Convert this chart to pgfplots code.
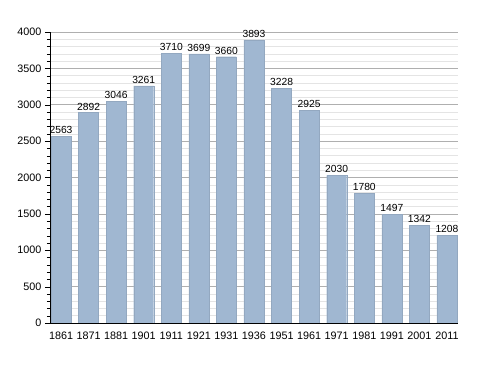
\documentclass[border=0pt]{standalone}
\usepackage{pgfplots}
\pgfplotsset{compat=1.18}
\usepackage{fontspec}
\setmainfont{Liberation Sans}
\definecolor{barc}{RGB}{160,183,209}
\definecolor{majgrid}{RGB}{175,175,175}
\definecolor{mingrid}{RGB}{228,228,228}
\begin{document}
\begin{tikzpicture}
\begin{axis}[
  name=ax,
  scale only axis,
  width=408pt, height=291pt,
  xmin=-0.4, xmax=14.4,
  ymin=0, ymax=4000,
  axis x line*=bottom, axis y line*=left,
  xtick=data,
  xticklabels={1861,1871,1881,1901,1911,1921,1931,1936,1951,1961,1971,1981,1991,2001,2011},
  ytick={0,500,...,4000},
  minor y tick num=4,
  ymajorgrids, yminorgrids,
  major grid style={majgrid, line width=0.6pt},
  minor grid style={mingrid, line width=0.5pt},
  tick align=outside,
  major tick length=5pt, minor tick length=3pt,
  xtick style={draw=none},
  tick style={black},
  ytick style={black},
  axis line style={black, line width=0.8pt},
  /pgf/number format/assume math mode=true,
  /pgf/number format/1000 sep={},
  tick label style={font=\fontsize{10.8}{13}\selectfont},
  ybar, bar width=20pt,
  nodes near coords,
  nodes near coords style={font=\fontsize{10.3}{12}\selectfont, /pgf/number format/1000 sep={}, yshift=-1pt},
]
\addplot[fill=barc, draw=barc!92!black, line width=0.3pt] coordinates {
(0,2563) (1,2892) (2,3046) (3,3261) (4,3710) (5,3699) (6,3660) (7,3893)
(8,3228) (9,2925) (10,2030) (11,1780) (12,1497) (13,1342) (14,1208)};
\end{axis}
\path[use as bounding box] ([shift={(-50pt,-50pt)}]ax.south west) rectangle ([shift={(30pt,32pt)}]ax.north east);
\end{tikzpicture}
\end{document}
